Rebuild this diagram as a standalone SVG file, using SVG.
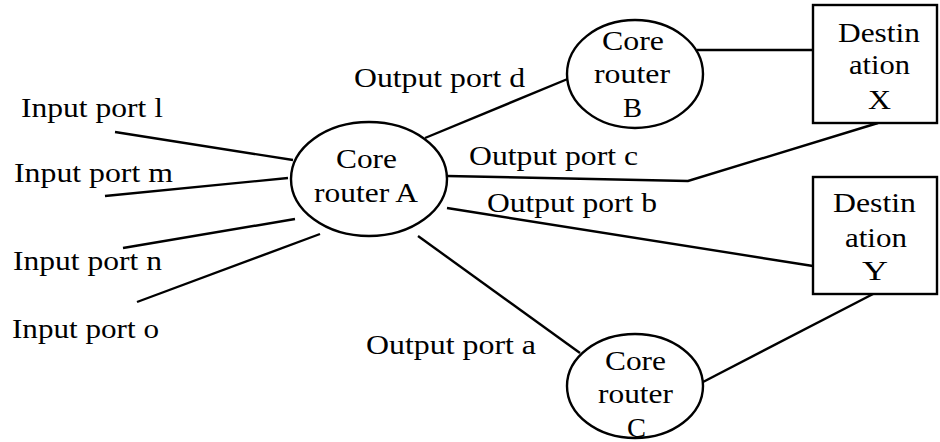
<svg xmlns="http://www.w3.org/2000/svg" width="940" height="442" viewBox="0 0 940 442">
  <style>
    .edge { fill: none; stroke: #000; stroke-width: 2.4; }
    .shape { fill: #fff; stroke: #000; stroke-width: 2.4; }
    text { font-family: "Liberation Serif", "Times New Roman", serif; font-size: 28px; fill: #000; }
  </style>
  <rect width="940" height="442" fill="#fff"/>

  <!-- connectors -->
  <g id="connectors">
    <line class="edge" x1="115" y1="132" x2="293" y2="160"/>
    <line class="edge" x1="105" y1="196" x2="288" y2="178"/>
    <line class="edge" x1="123" y1="248" x2="295" y2="219"/>
    <line class="edge" x1="137" y1="302" x2="320" y2="234"/>
    <line class="edge" x1="425" y1="138" x2="570" y2="78"/>
    <line class="edge" x1="697" y1="50" x2="813" y2="50"/>
    <polyline class="edge" points="447,176 688,181 878,123"/>
    <line class="edge" x1="447" y1="208" x2="813" y2="266"/>
    <line class="edge" x1="418" y1="236" x2="580" y2="353"/>
    <line class="edge" x1="703" y1="382" x2="875" y2="293"/>
  </g>

  <!-- port labels -->
  <g id="labels">
    <text x="21" y="117" textLength="142" lengthAdjust="spacingAndGlyphs">Input port l</text>
    <text x="14" y="182" textLength="159" lengthAdjust="spacingAndGlyphs">Input port m</text>
    <text x="13" y="270" textLength="149" lengthAdjust="spacingAndGlyphs">Input port n</text>
    <text x="12" y="338" textLength="147" lengthAdjust="spacingAndGlyphs">Input port o</text>
    <text x="354" y="87" textLength="171" lengthAdjust="spacingAndGlyphs">Output port d</text>
    <text x="469" y="165" textLength="169" lengthAdjust="spacingAndGlyphs">Output port c</text>
    <text x="487" y="212" textLength="170" lengthAdjust="spacingAndGlyphs">Output port b</text>
    <text x="366" y="354" textLength="170" lengthAdjust="spacingAndGlyphs">Output port a</text>
  </g>

  <g id="core-router-a">
    <ellipse class="shape" cx="369" cy="179" rx="78" ry="57"/>
    <text x="336" y="168" textLength="61" lengthAdjust="spacingAndGlyphs">Core</text>
    <text x="314" y="202" textLength="104" lengthAdjust="spacingAndGlyphs">router A</text>
  </g>

  <g id="core-router-b">
    <ellipse class="shape" cx="635" cy="74" rx="68" ry="54"/>
    <text x="602" y="50" textLength="62" lengthAdjust="spacingAndGlyphs">Core</text>
    <text x="594" y="83" textLength="76" lengthAdjust="spacingAndGlyphs">router</text>
    <text x="623" y="117" textLength="19" lengthAdjust="spacingAndGlyphs">B</text>
  </g>

  <g id="core-router-c">
    <ellipse class="shape" cx="635" cy="386" rx="68" ry="52"/>
    <text x="605" y="370" textLength="61" lengthAdjust="spacingAndGlyphs">Core</text>
    <text x="598" y="403" textLength="75" lengthAdjust="spacingAndGlyphs">router</text>
    <text x="627" y="437" textLength="19" lengthAdjust="spacingAndGlyphs">C</text>
  </g>

  <g id="destination-x">
    <rect class="shape" x="813" y="5" width="124" height="118"/>
    <text x="838" y="42" textLength="82" lengthAdjust="spacingAndGlyphs">Destin</text>
    <text x="849" y="74" textLength="61" lengthAdjust="spacingAndGlyphs">ation</text>
    <text x="868" y="109" textLength="23" lengthAdjust="spacingAndGlyphs">X</text>
  </g>

  <g id="destination-y">
    <rect class="shape" x="813" y="177" width="124" height="117"/>
    <text x="833" y="212" textLength="83" lengthAdjust="spacingAndGlyphs">Destin</text>
    <text x="845" y="247" textLength="62" lengthAdjust="spacingAndGlyphs">ation</text>
    <text x="862" y="280" textLength="26" lengthAdjust="spacingAndGlyphs">Y</text>
  </g>
</svg>
